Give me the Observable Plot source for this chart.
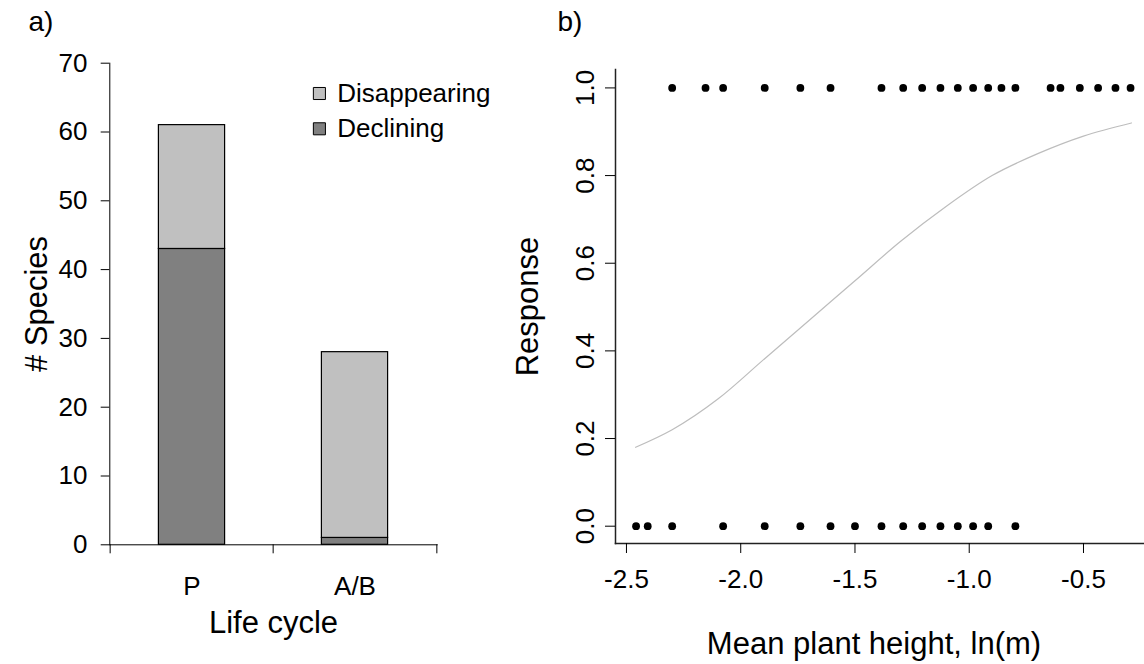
<!DOCTYPE html>
<html>
<head>
<meta charset="utf-8">
<script src="https://cdn.jsdelivr.net/npm/d3@7"></script>
<script src="https://cdn.jsdelivr.net/npm/@observablehq/plot@0.6"></script>
<style>
  html, body { margin: 0; padding: 0; background: #fff; }
  #wrap { display: flex; width: 1144px; height: 664px; }
  #wrap svg { display: block; }
</style>
</head>
<body>
<div id="wrap"></div>
<script>
// ---------- Panel a data ----------
const categories = ["P", "A/B"];
const declining = [43, 1];
const disappearing = [18, 27];
const seriesNames = ["Disappearing", "Declining"];
const seriesColors = ["#c0c0c0", "#808080"];
const countTicks = [0, 10, 20, 30, 40, 50, 60, 70];

// ---------- Panel b data ----------
const presentX = [-2.300, -2.154, -2.077, -1.895, -1.739, -1.607, -1.384, -1.289, -1.206, -1.126,
                  -1.050, -0.983, -0.917, -0.859, -0.798, -0.644, -0.601, -0.516, -0.436, -0.360, -0.294];
const absentX = [-2.458, -2.407, -2.300, -2.077, -1.895, -1.739, -1.607, -1.500, -1.384, -1.289,
                 -1.206, -1.126, -1.050, -0.983, -0.917, -0.798];
const fitX = [-2.46, -2.3, -2.1, -1.9, -1.7, -1.5, -1.3, -1.1, -0.9, -0.7, -0.5, -0.29];
const fitY = [0.18, 0.22, 0.29, 0.38, 0.47, 0.56, 0.65, 0.73, 0.80, 0.85, 0.89, 0.92];
const heightTicks = [-2.5, -2.0, -1.5, -1.0, -0.5];
const responseTicks = [0, 0.2, 0.4, 0.6, 0.8, 1.0];

const FONT = "'Liberation Sans', Arial, Helvetica, sans-serif";

// ---------- Panel a ----------
const barRows = categories.flatMap((c, i) => [
  {cat: c, series: "Declining", value: declining[i]},
  {cat: c, series: "Disappearing", value: disappearing[i]}
]);
const aLeft = 109.3, aWidth = 500, aRight = aWidth - 436.7;
const bandW = (aWidth - aLeft - aRight) / categories.length;

const chartA = Plot.plot({
  width: aWidth, height: 664,
  marginLeft: aLeft, marginRight: aRight, marginTop: 62.7, marginBottom: 119.7,
  style: {fontFamily: FONT, fontSize: "26px", color: "black", background: "white"},
  x: {type: "band", domain: categories, padding: 0},
  y: {domain: [0, 70]},
  color: {domain: seriesNames, range: seriesColors},
  marks: [
    Plot.barY(barRows, {x: "cat", y: "value", fill: "series", stroke: "black", strokeWidth: 1.2,
      insetLeft: 48.4, insetRight: 48.4}),
    Plot.frame({anchor: "left", stroke: "black", strokeWidth: 1}),
    Plot.frame({anchor: "bottom", stroke: "black", strokeWidth: 1}),
    Plot.ruleX(categories, {x: d => d, y1: 0, y2: 0, insetBottom: -9, dx: -bandW / 2, stroke: "black"}),
    Plot.ruleX(categories.slice(-1), {x: d => d, y1: 0, y2: 0, insetBottom: -9, dx: bandW / 2, stroke: "black"}),
    Plot.axisY({ticks: countTicks, tickSize: 8.6, tickPadding: 13.7, fontSize: 26, label: null}),
    Plot.axisX({tickSize: 0, tickPadding: 32, fontSize: 26, label: null}),
    Plot.text(["# Species"], {frameAnchor: "left", dx: -73, rotate: -90, textAnchor: "middle",
      lineAnchor: "middle", fontSize: 31}),
    Plot.text(["Life cycle"], {frameAnchor: "bottom", dy: 78, lineAnchor: "middle", fontSize: 31}),
    Plot.text(["a)"], {frameAnchor: "top-left", dx: -81.3, dy: -41, lineAnchor: "middle", textAnchor: "start", fontSize: 28}),
    // legend
    ...seriesNames.map((s, i) => Plot.dot([s], {frameAnchor: "top-left", dx: 209.6, dy: 30.3 + i * 35.3,
      symbol: "square", r: 6.8, fill: seriesColors[i], stroke: "black", strokeWidth: 1})),
    ...seriesNames.map((s, i) => Plot.text([s], {frameAnchor: "top-left", dx: 227.4, dy: 30.3 + i * 35.3,
      lineAnchor: "middle", textAnchor: "start", fontSize: 26}))
  ]
});

// ---------- Panel b ----------
const pointRows = [
  ...presentX.map(x => ({x, y: 1})),
  ...absentX.map(x => ({x, y: 0}))
];
const fitRows = fitX.map((x, i) => ({x, y: fitY[i]}));
const bLeft = 615 - aWidth;

const chartB = Plot.plot({
  width: 1144 - aWidth, height: 664,
  marginLeft: bLeft, marginRight: 0, marginTop: 69, marginBottom: 121,
  style: {fontFamily: FONT, fontSize: "26px", color: "black", background: "white"},
  x: {domain: [-2.548, -0.233]},
  y: {domain: [-0.0395, 1.042]},
  marks: [
    Plot.frame({anchor: "left", stroke: "#222", strokeWidth: 1.5}),
    Plot.frame({anchor: "bottom", stroke: "#222", strokeWidth: 1.5}),
    Plot.line(fitRows, {x: "x", y: "y", curve: "monotone-x", stroke: "#bdbdbd", strokeWidth: 1.2}),
    Plot.dot(pointRows, {x: "x", y: "y", r: 3.9, fill: "black", stroke: "none"}),
    Plot.axisX({ticks: heightTicks, tickSize: 10, tickPadding: 16, fontSize: 26, label: null,
      tickFormat: d => d.toFixed(1)}),
    Plot.axisY({ticks: responseTicks, tickSize: 10, tickFormat: () => "", label: null}),
    Plot.text(responseTicks, {y: d => d, text: d => d.toFixed(1), frameAnchor: "left", dx: -30,
      rotate: -90, textAnchor: "middle", lineAnchor: "middle", fontSize: 26}),
    Plot.text(["Response"], {frameAnchor: "left", dx: -87, rotate: -90, textAnchor: "middle",
      lineAnchor: "middle", fontSize: 31}),
    Plot.text(["Mean plant height, ln(m)"], {frameAnchor: "bottom", dx: -6, dy: 101, lineAnchor: "middle", fontSize: 31}),
    Plot.text(["b)"], {frameAnchor: "top-left", dx: -58, dy: -47, lineAnchor: "middle", textAnchor: "start", fontSize: 28})
  ]
});

const wrap = document.getElementById("wrap");
wrap.appendChild(chartA);
wrap.appendChild(chartB);
</script>
</body>
</html>
